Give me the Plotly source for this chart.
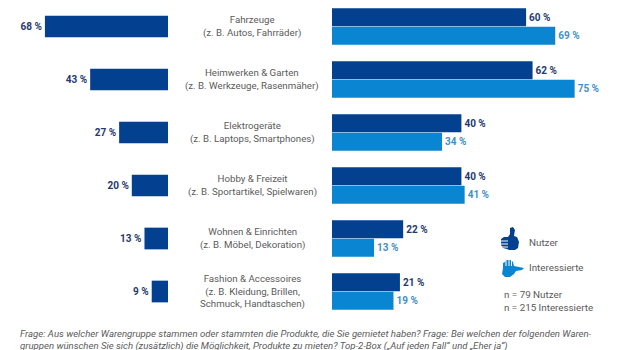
import plotly.graph_objects as go

categories = ["Fahrzeuge", "Heimwerken & Garten", "Elektrogeräte", "Hobby & Freizeit",
              "Wohnen & Einrichten", "Fashion & Accessoires"]
sublabels = ["(z. B. Autos, Fahrräder)", "(z. B. Werkzeuge, Rasenmäher)",
             "(z. B. Laptops, Smartphones)", "(z. B. Sportartikel, Spielwaren)",
             "(z. B. Möbel, Dekoration)", "(z. B. Kleidung, Brillen,<br>Schmuck, Handtaschen)"]
gemietet = [68, 43, 27, 20, 13, 9]
nutzer = [60, 62, 40, 40, 22, 21]
interessierte = [69, 75, 34, 41, 13, 19]
footnote = ["Frage: Aus welcher Warengruppe stammen oder stammten die Produkte, die Sie gemietet haben? Frage: Bei welchen der folgenden Waren-",
            "gruppen wünschen Sie sich (zusätzlich) die Möglichkeit, Produkte zu mieten? Top-2-Box („Auf jeden Fall“ und „Eher ja“)"]

W, H = 620, 350
DARK = "#03408f"
LIGHT = "#0a85d1"
DARK_T = "#1f3a70"
LIGHT_T = "#3f90c8"
GREY = "#5a5a5a"
FONT = "Roboto"

def px(x): return x / W
def py(y): return 1 - y / H
def pct(v): return [f"{a} %" for a in v]

fig = go.Figure()
fig.add_bar(y=categories, x=gemietet, orientation="h", xaxis="x", yaxis="y", width=0.41,
            marker=dict(color=DARK, line=dict(width=0)), text=pct(gemietet), textposition="outside",
            cliponaxis=False, textfont=dict(color=DARK_T, size=10, family=FONT, weight=700), showlegend=False)
fig.add_bar(y=categories, x=nutzer, orientation="h", xaxis="x2", yaxis="y2", name="Nutzer",
            marker=dict(color=DARK, line=dict(width=0)), text=pct(nutzer), textposition="outside",
            cliponaxis=False, textfont=dict(color=DARK_T, size=10, family=FONT, weight=700), showlegend=False)
fig.add_bar(y=categories, x=interessierte, orientation="h", xaxis="x2", yaxis="y2", name="Interessierte",
            marker=dict(color=LIGHT, line=dict(width=0)), text=pct(interessierte), textposition="outside",
            cliponaxis=False, textfont=dict(color=LIGHT_T, size=10, family=FONT, weight=700), showlegend=False)

yax = dict(type="category", categoryorder="array", categoryarray=categories, range=[5.5, -0.5],
           domain=[py(318), 1], visible=False, fixedrange=True)
xax = dict(visible=False, fixedrange=True)
fig.update_layout(
    width=W, height=H, margin=dict(l=0, r=0, t=0, b=0), autosize=False,
    paper_bgcolor="white", plot_bgcolor="white", barmode="group", bargap=0.3, bargroupgap=0.02,
    font=dict(family=FONT, size=9.7, color=GREY),
    xaxis=dict(domain=[0, px(168)], range=[168 / 1.81, 0], anchor="y", **xax),
    xaxis2=dict(domain=[px(332), 1], range=[0, 288 / 3.235], anchor="y2", **xax),
    yaxis=dict(anchor="x", **yax),
    yaxis2=dict(anchor="x2", **yax),
)

for c, s in zip(categories, sublabels):
    fig.add_annotation(x=px(252), y=c, xref="paper", yref="y", xanchor="center", yanchor="middle",
                       text=f"{c}<br>{s}", showarrow=False, align="center",
                       font=dict(size=9.7, color=GREY, family=FONT))

def note(x, y, text, size=9.8):
    fig.add_annotation(x=px(x), y=py(y), xref="paper", yref="paper", xanchor="left", yanchor="middle",
                       text=text, showarrow=False, align="left", font=dict(size=size, color=GREY, family=FONT))

note(527, 242, "Nutzer")
note(527, 267, "Interessierte")
note(502, 301, "n = 79 Nutzer<br>n = 215 Interessierte")
note(18, 340, f"<i>{footnote[0]}<br>{footnote[1]}</i>", size=9.6)

def poly(points, color):
    d = "M" + " L".join(f"{px(x):.4f},{py(y):.4f}" for x, y in points) + " Z"
    fig.add_shape(type="path", path=d, xref="paper", yref="paper", fillcolor=color, line=dict(width=0))

def gap(x0, y0, x1, y1):
    fig.add_shape(type="line", x0=px(x0), y0=py(y0), x1=px(x1), y1=py(y1), xref="paper", yref="paper",
                  line=dict(color="white", width=1))

# thumbs-up icon
poly([(508, 237), (510, 234), (510, 228), (513, 227), (515, 230), (514, 236), (517, 237), (519, 242),
      (518, 248), (515, 250), (509, 250), (507, 249), (503, 248), (501, 245), (501, 239), (504, 237)], DARK)
for yy in (241, 244, 247):
    gap(501, yy, 508, yy)
# open hand icon
poly([(503, 268), (503, 263), (505, 262), (506, 260), (509, 260), (511, 260), (513, 262), (514, 266),
      (519, 267), (524, 268), (522, 270), (516, 271), (514, 274), (510, 277), (505, 277), (502, 274)], LIGHT)
for xx in (506, 509, 511.5):
    gap(xx, 260, xx, 266)

fig.write_html("out.html", config=dict(displayModeBar=False, staticPlot=True),
               post_script="document.body.style.margin='0';document.documentElement.style.overflow='hidden';")
